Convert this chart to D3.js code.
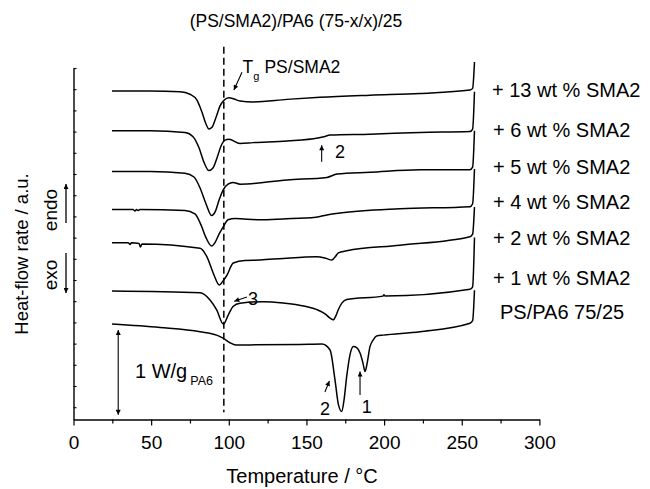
<!DOCTYPE html>
<html>
<head>
<meta charset="utf-8">
<script src="https://cdn.jsdelivr.net/npm/d3@7"></script>
<style>
  body { margin: 0; background: #fff; }
  text { font-family: "Liberation Sans", Arial, Helvetica, sans-serif; fill: #000; }
</style>
</head>
<body>
<svg id="chart" width="650" height="489"></svg>
<script>
// DSC heating scans, heat-flow rate (W/g, stacked) vs temperature (°C)
const sma13T = [24.8, 49.3, 68.6, 75.0, 79.5, 82.7, 85.3, 87.2, 89.2, 91.8, 94.3, 96.9, 100.1, 103.3, 107.2, 115.6, 137.5, 158.7, 190.9, 223.1, 255.3, 257.0, 258.2];
const sma13Q = [3.73, 3.73, 3.72, 3.69, 3.62, 3.48, 3.34, 3.28, 3.30, 3.42, 3.55, 3.62, 3.65, 3.635, 3.61, 3.60, 3.63, 3.655, 3.68, 3.70, 3.74, 3.76, 4.07];

const sma6T = [24.8, 49.3, 71.8, 77.0, 80.8, 84.0, 87.2, 89.8, 92.4, 95.0, 97.5, 100.1, 107.2, 115.6, 137.5, 157.4, 161.3, 165.2, 190.9, 223.1, 255.3, 257.0, 258.2];
const sma6Q = [3.26, 3.26, 3.24, 3.19, 3.06, 2.89, 2.79, 2.82, 2.94, 3.08, 3.15, 3.16, 3.11, 3.12, 3.14, 3.175, 3.19, 3.21, 3.22, 3.24, 3.25, 3.28, 3.72];

const sma5T = [24.8, 49.3, 71.8, 77.6, 81.5, 85.3, 89.0, 91.1, 93.7, 96.3, 99.5, 102.7, 107.2, 137.5, 163.2, 169.7, 190.9, 223.1, 255.3, 257.0, 258.2];
const sma5Q = [2.78, 2.78, 2.76, 2.715, 2.585, 2.40, 2.26, 2.30, 2.44, 2.56, 2.63, 2.65, 2.63, 2.68, 2.71, 2.75, 2.77, 2.80, 2.80, 2.83, 3.26];

const sma4T = [24.8, 38.3, 39.6, 40.6, 41.5, 42.8, 71.8, 78.2, 82.1, 85.3, 89.0, 91.1, 93.7, 96.5, 99.5, 104.0, 120.1, 134.9, 156.1, 163.9, 171.6, 210.2, 255.3, 257.0, 258.2];
const sma4Q = [2.33, 2.33, 2.315, 2.33, 2.32, 2.33, 2.32, 2.28, 2.15, 2.00, 1.90, 1.94, 2.04, 2.13, 2.21, 2.225, 2.21, 2.22, 2.24, 2.27, 2.29, 2.34, 2.365, 2.40, 2.81];

const sma2T = [24.8, 35.1, 36.4, 37.3, 42.2, 43.1, 44.1, 81.5, 86.0, 90.0, 93.9, 96.3, 98.6, 102.9, 110.4, 120.1, 135.1, 156.6, 162.6, 166.3, 168.4, 170.5, 175.9, 210.2, 255.3, 257.0, 258.2];
const sma2Q = [1.94, 1.94, 1.92, 1.94, 1.93, 1.89, 1.925, 1.875, 1.77, 1.58, 1.44, 1.49, 1.55, 1.70, 1.73, 1.735, 1.755, 1.775, 1.755, 1.735, 1.77, 1.82, 1.845, 1.91, 2.01, 2.04, 2.36];

const sma1T = [24.8, 81.5, 87.9, 92.2, 96.5, 99.7, 102.9, 107.2, 122.0, 134.9, 149.1, 156.8, 162.0, 165.2, 167.3, 169.0, 170.5, 172.9, 175.9, 199.3, 199.9, 200.6, 255.3, 257.0, 258.2];
const sma1Q = [1.37, 1.35, 1.265, 1.147, 0.98, 1.09, 1.19, 1.225, 1.245, 1.23, 1.19, 1.15, 1.10, 1.05, 1.03, 1.08, 1.15, 1.23, 1.27, 1.31, 1.325, 1.31, 1.39, 1.42, 2.00];

const blendT = [24.8, 55.7, 81.5, 92.2, 96.3, 100.8, 104.6, 113.6, 145.8, 160.0, 165.2, 168.4, 170.6, 172.7, 174.2, 175.9, 178.0, 180.2, 182.5, 184.5, 186.4, 187.7, 189.0, 190.9, 192.9, 195.2, 199.5, 223.1, 255.3, 257.0, 258.2];
const blendQ = [0.98, 0.94, 0.89, 0.85, 0.815, 0.76, 0.735, 0.735, 0.74, 0.745, 0.675, 0.32, 0.03, -0.05, 0.085, 0.36, 0.615, 0.715, 0.70, 0.64, 0.52, 0.42, 0.51, 0.715, 0.79, 0.84, 0.85, 0.89, 0.99, 1.02, 1.38];

const seriesNames = ["+ 13 wt % SMA2", "+ 6 wt % SMA2", "+ 5 wt % SMA2", "+ 4 wt % SMA2", "+ 2 wt % SMA2", "+ 1 wt % SMA2", "PS/PA6 75/25"];
const seriesT = [sma13T, sma6T, sma5T, sma4T, sma2T, sma1T, blendT];
const seriesQ = [sma13Q, sma6Q, sma5Q, sma4Q, sma2Q, sma1Q, blendQ];

const xTickValues = d3.range(0, 301, 25);
const xTickLabels = ["0", "50", "100", "150", "200", "250", "300"];
const yTickValues = d3.range(0, 4.001, 0.25);

// glass transition of PS/SMA2 and the 1 W/g scale bar
const tgTemp = 96.8;
const scaleBarT = 28.8;
const scaleBarQ = [-0.09, 0.91];

// annotation arrows: [tail, head] in (°C, W/g)
const tgArrow = [[108.5, 3.95], [103.3, 3.74]];
const step2Arrow = [[159.8, 2.895], [159.8, 3.09]];
const step3Arrow = [[111.7, 1.30], [103.5, 1.25]];
const melt2Arrow = [[161.9, 0.18], [164.8, 0.31]];
const melt1Arrow = [[184.5, 0.145], [184.5, 0.42]];

// ---- layout ----
const svg = d3.select("#chart");
const x = d3.scaleLinear().domain([0, 300]).range([73.5, 539.4]);
const y = d3.scaleLinear().domain([-0.145, 4]).range([419.5, 68]);

const defs = svg.append("defs");
defs.append("marker")
  .attr("id", "head")
  .attr("viewBox", "0 0 10 10")
  .attr("refX", 10).attr("refY", 5)
  .attr("markerUnits", "userSpaceOnUse")
  .attr("markerWidth", 6).attr("markerHeight", 5)
  .attr("orient", "auto-start-reverse")
  .append("path").attr("d", "M0,0 L10,5 L0,10 Z").attr("fill", "#000");

// title
svg.append("text")
  .attr("x", 296).attr("y", 27)
  .attr("text-anchor", "middle")
  .style("font-size", "17.5px")
  .text("(PS/SMA2)/PA6 (75-x/x)/25");

// x axis
const xAxis = svg.append("g")
  .attr("transform", `translate(0,${y.range()[0]})`)
  .call(d3.axisBottom(x).tickValues(xTickValues).tickSizeOuter(0).tickFormat(""));
xAxis.select(".domain").attr("stroke-width", 1.4);
xAxis.selectAll(".tick line")
  .attr("y2", d => d % 50 === 0 ? 6 : 4)
  .attr("stroke-width", 1.2);
xAxis.selectAll(".tick").filter(d => d % 50 === 0)
  .append("text")
  .attr("y", 29)
  .attr("text-anchor", "middle")
  .style("font-size", "19px")
  .text(d => xTickLabels[d / 50]);

svg.append("text")
  .attr("x", 302).attr("y", 483)
  .attr("text-anchor", "middle")
  .style("font-size", "20px")
  .text("Temperature / °C");

// y axis (ticks only)
const yAxis = svg.append("g")
  .attr("transform", `translate(${x(0)},0)`)
  .call(d3.axisRight(y).tickValues(yTickValues).tickSize(3).tickSizeOuter(0).tickFormat(""));
yAxis.select(".domain").attr("stroke-width", 1.4);
yAxis.selectAll(".tick line").attr("stroke-width", 1.1);

svg.append("text")
  .attr("transform", "translate(28,254) rotate(-90)")
  .attr("text-anchor", "middle")
  .style("font-size", "18.5px")
  .text("Heat-flow rate / a.u.");

// endo / exo direction hints
svg.append("text")
  .attr("transform", "translate(57,210) rotate(-90)")
  .attr("text-anchor", "middle")
  .style("font-size", "19px")
  .text("endo");
svg.append("text")
  .attr("transform", "translate(57,275) rotate(-90)")
  .attr("text-anchor", "middle")
  .style("font-size", "19px")
  .text("exo");
svg.append("line").attr("x1", 66).attr("x2", 66).attr("y1", 223).attr("y2", 184)
  .attr("stroke", "#000").attr("stroke-width", 1.3).attr("marker-end", "url(#head)");
svg.append("line").attr("x1", 66).attr("x2", 66).attr("y1", 253).attr("y2", 293)
  .attr("stroke", "#000").attr("stroke-width", 1.3).attr("marker-end", "url(#head)");

// Tg dashed guide
svg.append("line")
  .attr("x1", x(tgTemp)).attr("x2", x(tgTemp))
  .attr("y1", y(4.25)).attr("y2", y(-0.06))
  .attr("stroke", "#000").attr("stroke-width", 1.5)
  .attr("stroke-dasharray", "7,4");

// traces
const line = d3.line()
  .x(d => x(d[0]))
  .y(d => y(d[1]))
  .curve(d3.curveMonotoneX);

seriesT.forEach((ts, i) => {
  const pts = ts.map((t, j) => [t, seriesQ[i][j]]);
  svg.append("path")
    .datum(pts)
    .attr("d", line)
    .attr("fill", "none")
    .attr("stroke", "#000")
    .attr("stroke-width", 1.5)
    .attr("stroke-linejoin", "round");
});

// series labels
const labelX = [492, 493, 493, 493, 493, 493, 500];
const labelBaseline = [97, 137, 174, 209, 245, 285, 319];
seriesNames.forEach((name, i) => {
  svg.append("text")
    .attr("x", labelX[i]).attr("y", labelBaseline[i])
    .style("font-size", "20px")
    .text(name);
});

// annotations
function arrow(a) {
  svg.append("line")
    .attr("x1", x(a[0][0])).attr("y1", y(a[0][1]))
    .attr("x2", x(a[1][0])).attr("y2", y(a[1][1]))
    .attr("stroke", "#000").attr("stroke-width", 1.1)
    .attr("marker-end", "url(#head)");
}
[tgArrow, step2Arrow, step3Arrow, melt2Arrow, melt1Arrow].forEach(arrow);

const tg = svg.append("text")
  .attr("x", x(108.9)).attr("y", y(3.94))
  .style("font-size", "17.5px");
tg.append("tspan").text("T");
tg.append("tspan").attr("dy", 7).style("font-size", "11px").text("g");
tg.append("tspan").attr("dy", -7).attr("dx", 5).text("PS/SMA2");

svg.append("text").attr("x", x(168.4)).attr("y", y(2.94)).style("font-size", "18px").text("2");
svg.append("text").attr("x", x(112.4)).attr("y", y(1.205)).style("font-size", "18px").text("3");
svg.append("text").attr("x", x(158.7)).attr("y", y(-0.092)).style("font-size", "18px").text("2");
svg.append("text").attr("x", x(185.6)).attr("y", y(-0.071)).style("font-size", "18px").text("1");

// scale bar
svg.append("line")
  .attr("x1", x(scaleBarT)).attr("x2", x(scaleBarT))
  .attr("y1", y(scaleBarQ[0])).attr("y2", y(scaleBarQ[1]))
  .attr("stroke", "#000").attr("stroke-width", 1.1)
  .attr("marker-start", "url(#head)")
  .attr("marker-end", "url(#head)");
const sb = svg.append("text")
  .attr("x", 135).attr("y", 378)
  .style("font-size", "20px");
sb.append("tspan").text("1 W/g");
sb.append("tspan").attr("dy", 7).attr("dx", 3).style("font-size", "12.5px").text("PA6");
</script>
</body>
</html>
